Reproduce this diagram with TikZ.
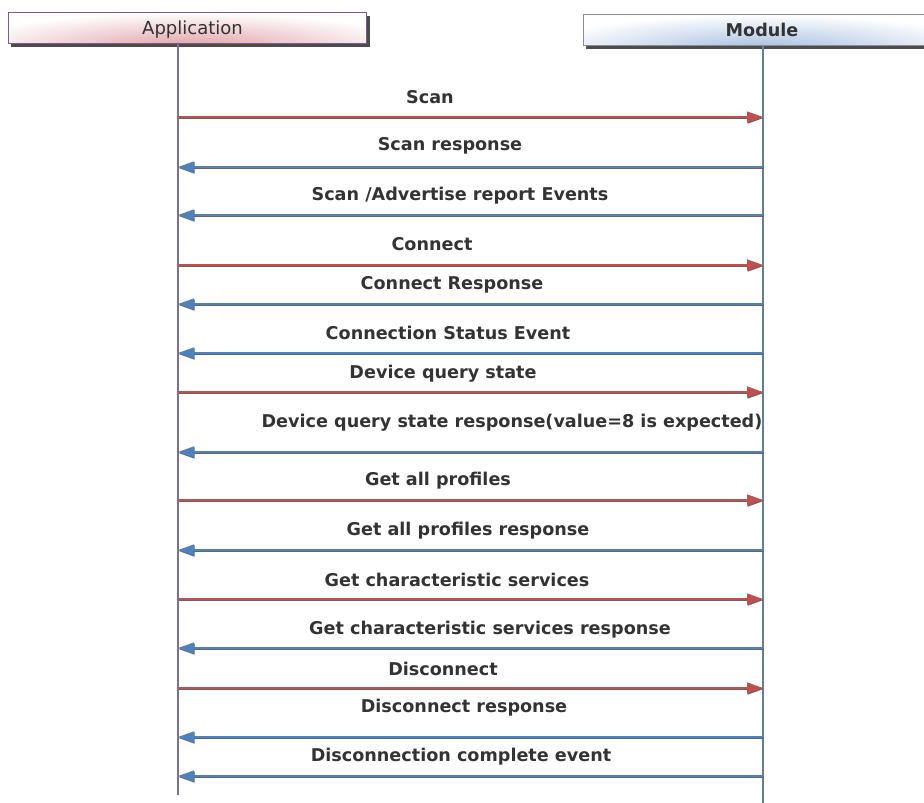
\documentclass[tikz,border=0pt]{standalone}
\usepackage{fontspec}
\setmainfont{DejaVu Sans}
\usepackage{xcolor}
\usetikzlibrary{arrows.meta}

\definecolor{reqred}{HTML}{C0504D}
\definecolor{respblue}{HTML}{4F81BD}
\definecolor{apppink}{HTML}{E0A0A6}
\definecolor{modblue}{HTML}{A4BEE0}
\definecolor{txtgray}{HTML}{333333}
\definecolor{appline}{HTML}{7A7290}
\definecolor{modline}{HTML}{687C96}

\tikzset{
  msg/.style={line width=1.3pt, -{Triangle[length=16pt,width=11pt]},
    preaction={draw=black!60, line width=1.6pt, transform canvas={shift={(0.6pt,-1pt)}}}},
  req/.style={msg, draw=reqred},
  resp/.style={msg, draw=respblue},
  lbl/.style={font=\bfseries\fontsize{17.6}{20}\selectfont, text=txtgray, inner sep=0pt},
  hdr/.style={minimum width=358pt, minimum height=31pt, line width=1pt, inner sep=0pt,
    font=\fontsize{18}{20}\selectfont, text=txtgray},
  life/.style={line width=1.6pt}
}

\begin{document}
\begin{tikzpicture}[x=1pt, y=-1pt]
  \useasboundingbox (0,0) rectangle (924,803);
  \clip (0,0) rectangle (924,803);
  % participants
  \fill[black!70] (10.5,15.5) rectangle (369.5,46.5);
  \node[hdr, draw=appline!80!violet, fill=white, inner xsep=0pt, text depth=0pt,
    path picture={\shade[inner color=apppink, outer color=white]
      ([yshift=-4pt]path picture bounding box.south) ellipse (230pt and 34pt);}]
    (app) at (187.5,28) {\hspace*{10pt}Application};
  \fill[black!70] (585.5,16.5) rectangle (944.5,48.5);
  \node[hdr, draw=black!45, fill=white, font=\bfseries\fontsize{17.6}{20}\selectfont,
    path picture={\shade[inner color=modblue, outer color=white]
      ([yshift=-4pt]path picture bounding box.south) ellipse (230pt and 34pt);}]
    (mod) at (762,30) {Module};
  % lifelines
  \coordinate (append) at (178,795);
  \coordinate (modend) at (763,803);
  \draw[life, draw=appline] (app.south -| append) -- (append);
  \draw[life, draw=modline] (mod.south -| modend) -- (modend);
  % message anchors on both lifelines
  \foreach \y [count=\i] in {117,167,215,265,304,353,392,452,500,550,599,648,688,737,776} {
    \coordinate (a\i) at (178,\y);
    \coordinate (m\i) at (763,\y);
  }
  % messages
  \draw[req] (a1) -- (m1);
  \node[lbl] (l1) at (430,97) {Scan};
  \draw[resp] (m2) -- (a2);
  \node[lbl] (l2) at (450,146) {Scan response};
  \draw[resp] (m3) -- (a3);
  \node[lbl] (l3) at (460,196) {Scan /Advertise report Events};
  \draw[req] (a4) -- (m4);
  \node[lbl] (l4) at (432,244) {Connect};
  \draw[resp] (m5) -- (a5);
  \node[lbl] (l5) at (452,285) {Connect Response};
  \draw[resp] (m6) -- (a6);
  \node[lbl] (l6) at (448,333) {Connection Status Event};
  \draw[req] (a7) -- (m7);
  \node[lbl] (l7) at (443,374) {Device query state};
  \draw[resp] (m8) -- (a8);
  \node[lbl] (l8) at (512,423) {Device query state response(value=8 is expected)};
  \draw[req] (a9) -- (m9);
  \node[lbl] (l9) at (438,481) {Get all profiles};
  \draw[resp] (m10) -- (a10);
  \node[lbl] (l10) at (468,531) {Get all profiles response};
  \draw[req] (a11) -- (m11);
  \node[lbl] (l11) at (457,580) {Get characteristic services};
  \draw[resp] (m12) -- (a12);
  \node[lbl] (l12) at (490,630) {Get characteristic services response};
  \draw[req] (a13) -- (m13);
  \node[lbl] (l13) at (443,669) {Disconnect};
  \draw[resp] (m14) -- (a14);
  \node[lbl] (l14) at (464,708) {Disconnect response};
  \draw[resp] (m15) -- (a15);
  \node[lbl] (l15) at (461,757) {Disconnection complete event};
\end{tikzpicture}
\end{document}
